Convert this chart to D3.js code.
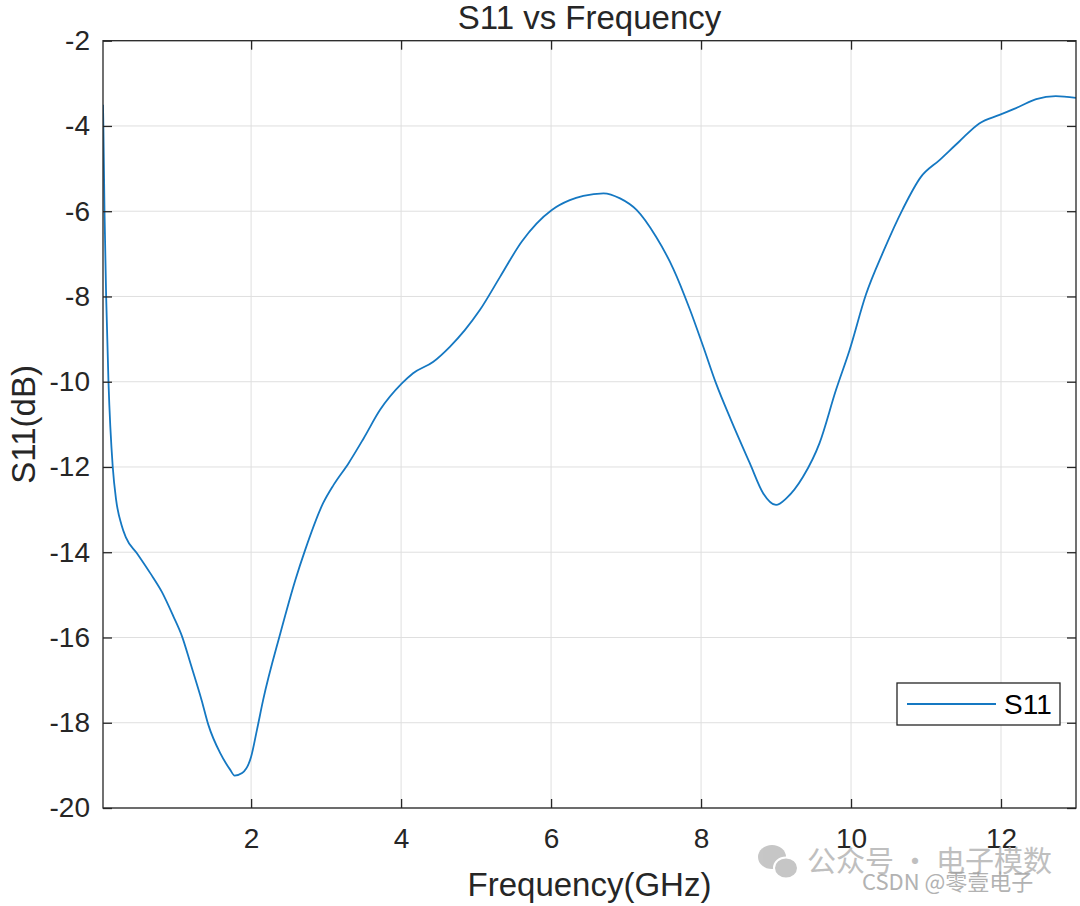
<!DOCTYPE html>
<html>
<head>
<meta charset="utf-8">
<script src="https://cdn.jsdelivr.net/npm/d3@7"></script>
<style>
  html, body { margin: 0; padding: 0; background: #fff; }
  svg { display: block; font-family: "Liberation Sans", Arial, Helvetica, sans-serif; }
</style>
</head>
<body>
<div id="chart"></div>
<script>
// S11 readings (GHz, dB)
const freq = [0.025, 0.03, 0.045, 0.067, 0.098, 0.155, 0.2, 0.27, 0.33, 0.48, 0.655, 0.81, 0.965,
  1.08, 1.19, 1.34, 1.43, 1.59, 1.72, 1.78, 1.88, 2.0, 2.08, 2.16, 2.39, 2.59, 2.72, 2.96, 3.10,
  3.30, 3.50, 3.72, 4.01, 4.16, 4.43, 4.65, 4.85, 5.05, 5.32, 5.61, 6.01, 6.25, 6.43, 6.70, 6.92,
  7.14, 7.40, 7.63, 7.85, 8.03, 8.20, 8.40, 8.65, 8.83, 9.00, 9.14, 9.36, 9.58, 9.80, 9.98, 10.20,
  10.43, 10.69, 10.93, 11.18, 11.44, 11.71, 11.98, 12.24, 12.47, 12.73, 13.0];
const s11 = [-3.5, -4.0, -6.0, -8.0, -10.0, -12.0, -12.77, -13.35, -13.65, -14.03, -14.49, -14.93, -15.51,
  -15.98, -16.6, -17.47, -18.05, -18.72, -19.1, -19.24, -19.18, -18.8, -18.15, -17.47, -15.9, -14.65, -13.95, -12.85, -12.42,
  -11.91, -11.33, -10.66, -10.04, -9.80, -9.53, -9.18, -8.79, -8.32, -7.54, -6.71, -5.97, -5.74, -5.64, -5.58, -5.70,
  -5.97, -6.60, -7.35, -8.30, -9.18, -10.04, -10.90, -11.91, -12.62, -12.89, -12.73, -12.23, -11.44, -10.19, -9.26, -7.95,
  -6.95, -5.95, -5.20, -4.80, -4.37, -3.94, -3.74, -3.55, -3.37, -3.30, -3.34];
const xTicks = [2, 4, 6, 8, 10, 12];
const yTicks = [-2, -4, -6, -8, -10, -12, -14, -16, -18, -20];
const seriesName = 'S11';

const W = 1080, H = 906;
const margin = { top: 40.7, right: 4, bottom: 98, left: 103 };
const iw = W - margin.left - margin.right;
const ih = H - margin.top - margin.bottom;
const ink = '#262626';
const lineColor = '#1578c2';

const svg = d3.select('#chart').append('svg')
  .attr('width', W).attr('height', H);

const x = d3.scaleLinear().domain([0.025, 13]).range([0, iw]);
const y = d3.scaleLinear().domain([-20, -2]).range([ih, 0]);

const g = svg.append('g').attr('transform', `translate(${margin.left},${margin.top})`);

// grid
g.append('g').selectAll('line').data(xTicks).join('line')
  .attr('x1', d => x(d)).attr('x2', d => x(d)).attr('y1', 0).attr('y2', ih)
  .attr('stroke', '#dfdfdf').attr('stroke-width', 1);
g.append('g').selectAll('line').data(yTicks).join('line')
  .attr('y1', d => y(d)).attr('y2', d => y(d)).attr('x1', 0).attr('x2', iw)
  .attr('stroke', '#dfdfdf').attr('stroke-width', 1);

g.append('clipPath').attr('id', 'clip').append('rect').attr('width', iw).attr('height', ih);

const line = d3.line().x((d, i) => x(freq[i])).y(d => y(d)).curve(d3.curveMonotoneX);
g.append('path').datum(s11)
  .attr('clip-path', 'url(#clip)')
  .attr('fill', 'none').attr('stroke', lineColor).attr('stroke-width', 1.8)
  .attr('d', line);

// axes (MATLAB style, ticks inward, box on)
const tickLen = 9;
const fmt = d => String(d); // plain hyphen minus like the original
const axisStyle = sel => {
  sel.select('.domain').remove();
  sel.selectAll('.tick line').attr('stroke', ink).attr('stroke-width', 1.3);
  sel.selectAll('.tick text').attr('fill', ink).style('font-size', '28px');
};
g.append('g').attr('transform', `translate(0,${ih})`)
  .call(d3.axisBottom(x).tickValues(xTicks).tickSize(-tickLen).tickPadding(20).tickFormat(fmt))
  .call(axisStyle);
g.append('g')
  .call(d3.axisTop(x).tickValues(xTicks).tickSize(-tickLen).tickFormat(''))
  .call(axisStyle);
g.append('g')
  .call(d3.axisLeft(y).tickValues(yTicks).tickSize(-tickLen).tickPadding(13).tickFormat(fmt))
  .call(axisStyle);
g.append('g').attr('transform', `translate(${iw},0)`)
  .call(d3.axisRight(y).tickValues(yTicks).tickSize(-tickLen).tickFormat(''))
  .call(axisStyle);

g.append('rect').attr('width', iw).attr('height', ih)
  .attr('fill', 'none').attr('stroke', ink).attr('stroke-width', 1.3);

// labels
svg.append('text').attr('x', margin.left + iw / 2).attr('y', 29)
  .attr('text-anchor', 'middle').attr('fill', ink).style('font-size', '33px')
  .text('S11 vs Frequency');
svg.append('text').attr('x', margin.left + iw / 2).attr('y', 896)
  .attr('text-anchor', 'middle').attr('fill', ink).style('font-size', '33px')
  .text('Frequency(GHz)');
svg.append('text')
  .attr('transform', `translate(35,${margin.top + ih / 2}) rotate(-90)`)
  .attr('text-anchor', 'middle').attr('fill', ink).style('font-size', '33px')
  .text('S11(dB)');

// legend
const lg = svg.append('g').attr('transform', 'translate(897,683)');
lg.append('rect').attr('width', 163).attr('height', 42)
  .attr('fill', '#fff').attr('stroke', ink).attr('stroke-width', 1.3);
lg.append('line').attr('x1', 10).attr('x2', 99).attr('y1', 21).attr('y2', 21)
  .attr('stroke', lineColor).attr('stroke-width', 1.8);
lg.append('text').attr('x', 107).attr('y', 31).attr('fill', '#000')
  .style('font-size', '28px').text(seriesName);

// watermark
const wm = svg.append('g').attr('opacity', 0.85);
wm.append('ellipse').attr('cx', 772).attr('cy', 857).attr('rx', 14).attr('ry', 12).attr('fill', '#bdbdbd');
wm.append('ellipse').attr('cx', 786).attr('cy', 868).attr('rx', 12).attr('ry', 10.5).attr('fill', '#bdbdbd')
  .attr('stroke', '#fff').attr('stroke-width', 2);
wm.append('text').attr('x', 807).attr('y', 872).attr('fill', '#b4b4b4')
  .style('font-family', '"Noto Sans CJK SC", sans-serif').style('font-size', '29px')
  .text('公众号 · 电子模数');
svg.append('text').attr('x', 862).attr('y', 890).attr('fill', '#a0a0a0').attr('opacity', 0.8)
  .style('font-family', '"Noto Sans CJK SC", sans-serif').style('font-size', '22px')
  .text('CSDN @零壹电子');
</script>
</body>
</html>
